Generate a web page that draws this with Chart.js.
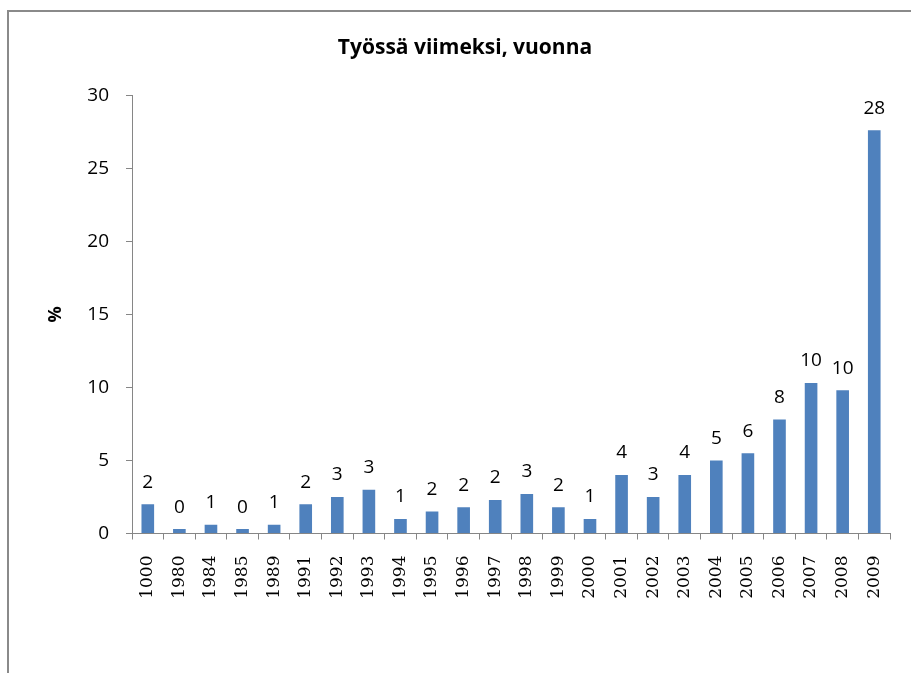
<!DOCTYPE html>
<html>
<head>
<meta charset="utf-8">
<script src="https://cdn.jsdelivr.net/npm/chart.js@4"></script>
<style>
  body { margin: 0; background: #fff; }
  #wrap { position: relative; width: 911px; height: 673px; overflow: hidden; }
  #frame { position: absolute; left: 7px; top: 10px; width: 1000px; height: 1000px;
           border-top: 2px solid #8a8a8a; border-left: 2px solid #8a8a8a; }
  canvas { position: absolute; left: 0; top: 0; }
</style>
</head>
<body>
<div id="wrap">
  <div id="frame"></div>
  <canvas id="chart" width="911" height="673"></canvas>
</div>
<script>
const years = ['1000', '1980', '1984', '1985', '1989', '1991', '1992', '1993', '1994', '1995', '1996', '1997',
               '1998', '1999', '2000', '2001', '2002', '2003', '2004', '2005', '2006', '2007', '2008', '2009'];
const shares = [2.0, 0.3, 0.6, 0.3, 0.6, 2.0, 2.5, 3.0, 1.0, 1.5, 1.8, 2.3,
                2.7, 1.8, 1.0, 4.0, 2.5, 4.0, 5.0, 5.5, 7.8, 10.3, 9.8, 27.6];
const yTicks = [0, 5, 10, 15, 20, 25, 30];

const axisGray = '#868686';

// bar value labels, rounded like the original
const valueLabels = {
    id: 'valueLabels',
    afterDatasetsDraw(chart) {
        const c = chart.ctx;
        const meta = chart.getDatasetMeta(0);
        c.save();
        c.font = '19px "Open Sans"';
        c.fillStyle = '#000';
        c.textAlign = 'center';
        c.textBaseline = 'middle';
        meta.data.forEach((bar, i) => {
            c.fillText(String(Math.round(shares[i])), bar.x, bar.y - 22);
        });
        c.restore();
    }
};

new Chart(document.getElementById('chart').getContext('2d'), {
    type: 'bar',
    data: {
        labels: years,
        datasets: [{
            data: shares,
            backgroundColor: '#4F81BD',
            barPercentage: 0.8,
            categoryPercentage: 0.5
        }]
    },
    options: {
        responsive: false,
        animation: false,
        layout: { padding: { left: 36, right: 17, top: 0, bottom: 0 } },
        plugins: {
            legend: { display: false },
            tooltip: { enabled: false },
            title: {
                display: true,
                text: 'Työssä viimeksi, vuonna',
                color: '#000',
                font: { family: 'Open Sans', size: 21, weight: 'bold' },
                padding: { top: 35, bottom: 35 }
            }
        },
        scales: {
            x: {
                afterFit(scale) { scale.height = 139.5; },
                grid: { drawOnChartArea: false, drawTicks: true, tickLength: 6, color: axisGray },
                border: { color: axisGray, width: 1 },
                ticks: {
                    color: '#000',
                    font: { family: 'DejaVu Serif', size: 17 },
                    maxRotation: 90,
                    minRotation: 90,
                    padding: 16,
                    autoSkip: false
                }
            },
            y: {
                min: 0,
                max: 30,
                afterFit(scale) { scale.width = 96; },
                afterBuildTicks(scale) { scale.ticks = yTicks.map(v => ({ value: v })); },
                grid: { drawOnChartArea: false, drawTicks: true, tickLength: 6, color: axisGray },
                border: { color: axisGray, width: 1 },
                ticks: {
                    color: '#000',
                    font: { family: 'Open Sans', size: 19 },
                    padding: 17
                },
                title: {
                    display: true,
                    text: '%',
                    color: '#000',
                    font: { family: 'Open Sans', size: 18, weight: 'bold' },
                    padding: { top: 9, bottom: 0 }
                }
            }
        }
    },
    plugins: [valueLabels]
});
</script>
</body>
</html>
